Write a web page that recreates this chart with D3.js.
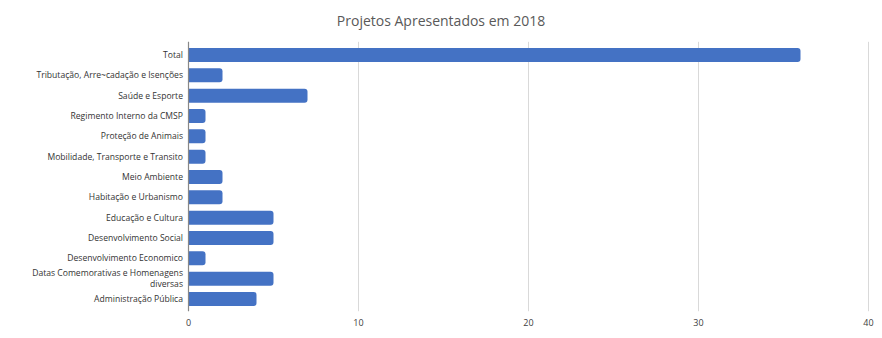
<!DOCTYPE html>
<html><head><meta charset="utf-8">
<script src="https://cdn.jsdelivr.net/npm/d3@7"></script>
<style>body{margin:0;background:#fff;}svg{display:block;font-family:"Open Sans","Noto Sans",sans-serif;}</style>
</head><body>
<svg id="c" width="882" height="338"></svg>
<script>
const categories = ["Total","Tributação, Arre~cadação e Isenções","Saúde e Esporte","Regimento Interno da CMSP","Proteção de Animais","Mobilidade, Transporte e Transito","Meio Ambiente","Habitação e Urbanismo","Educação e Cultura","Desenvolvimento Social","Desenvolvimento Economico","Datas Comemorativas e Homenagens diversas","Administração Pública"];
const values = [36,2,7,1,1,1,2,2,5,5,1,5,4];
const xTicks = [0,10,20,30,40];
const title = "Projetos Apresentados em 2018";

const svg = d3.select("#c");
const m = {left:188.5, right:868.5, top:44.8, bottom:309.2};
const x = d3.scaleLinear().domain([0,40]).range([m.left, m.right]);
const y = d3.scaleBand().domain(categories).range([m.top, m.bottom]).paddingInner(0.31).paddingOuter(0.155);

svg.append("text").attr("x",441).attr("y",26).attr("text-anchor","middle")
  .attr("font-size",14).attr("fill","#595959").text(title);

// gridlines
svg.append("g").selectAll("line").data(xTicks.filter(d=>d>0)).join("line")
  .attr("x1",d=>x(d)).attr("x2",d=>x(d)).attr("y1",m.top-3).attr("y2",m.bottom+2)
  .attr("stroke","#d9d9d9").attr("stroke-width",1);

// bars with rounded right end
const h = y.bandwidth();
const r = 3;
svg.append("g").selectAll("path").data(categories).join("path")
  .attr("d",(c,i)=>{
    const x0 = x(0), x1 = x(values[i]), y0 = y(c), y1 = y0+h;
    return `M${x0},${y0}H${x1-r}Q${x1},${y0} ${x1},${y0+r}V${y1-r}Q${x1},${y1} ${x1-r},${y1}H${x0}Z`;
  })
  .attr("fill","#4472C4");

// axis line
svg.append("line").attr("x1",x(0)).attr("x2",x(0)).attr("y1",m.top-3).attr("y2",m.bottom+2)
  .attr("stroke","#888").attr("stroke-width",1.2);

// x tick labels
svg.append("g").selectAll("text").data(xTicks).join("text")
  .attr("x",d=>x(d)).attr("y",326).attr("text-anchor","middle")
  .attr("font-size",9).attr("fill","#404040").text(d=>d);

// category labels
const lab = svg.append("g").selectAll("text").data(categories).join("text")
  .attr("x",183).attr("text-anchor","end").attr("font-size",8.6).attr("fill","#333");
lab.each(function(c){
  const t = d3.select(this);
  const cy = y(c)+h/2;
  if (c.startsWith("Datas")) {
    t.append("tspan").attr("x",183).attr("y",cy-2.5).text("Datas Comemorativas e Homenagens");
    t.append("tspan").attr("x",183).attr("y",cy+8.5).text("diversas");
  } else {
    t.attr("y",cy+3).text(c);
  }
});
</script>
</body></html>
